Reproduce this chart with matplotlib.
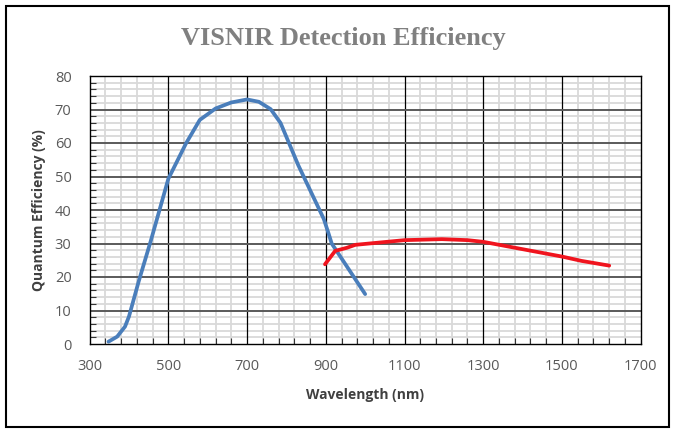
import matplotlib
matplotlib.use("Agg")
import matplotlib.pyplot as plt
from matplotlib.ticker import FixedLocator, MultipleLocator
from matplotlib.patches import Rectangle

# VIS detector (blue)
vis_wl = [348, 370, 390, 400, 425, 455, 480, 500, 545, 580, 620, 660, 700, 730,
          760, 785, 830, 895, 907, 915, 1000]
vis_qe = [0.7, 2.2, 5.2, 8.2, 18.8, 30.6, 41.0, 49.3, 59.9, 66.9, 70.3, 72.1, 73.0, 72.3,
          70.1, 66.0, 53.4, 37.3, 33.0, 30.0, 14.9]

# NIR detector (red)
nir_wl = [898, 924, 953, 975, 1100, 1195, 1260, 1300, 1500, 1550, 1620]
nir_qe = [23.8, 27.8, 28.7, 29.6, 31.0, 31.3, 31.0, 30.5, 26.1, 24.8, 23.4]

x_ticks = [300, 500, 700, 900, 1100, 1300, 1500, 1700]
y_ticks = [0, 10, 20, 30, 40, 50, 60, 70, 80]

title = "VISNIR Detection Efficiency"
xlabel = "Wavelength (nm)"
ylabel = "Quantum Efficiency (%)"

fig = plt.figure(figsize=(6.75, 4.30), dpi=100)
W, H = 675, 430
ax = fig.add_axes([89.6 / W, 1 - 344 / H, (640.7 - 89.6) / W, (344 - 76) / H])

ax.set_xlim(x_ticks[0], x_ticks[-1])
ax.set_ylim(y_ticks[0], y_ticks[-1])
ax.xaxis.set_major_locator(FixedLocator(x_ticks))
ax.xaxis.set_minor_locator(FixedLocator(list(range(x_ticks[0], x_ticks[-1] + 1, 40))))
ax.yaxis.set_major_locator(FixedLocator(y_ticks))
ax.yaxis.set_minor_locator(MultipleLocator(2))

ax.grid(which="minor", axis="both", color="#d9d9d9", linewidth=1.3, zorder=0)
ax.set_axisbelow(True)
ax.vlines(x_ticks[1:-1], y_ticks[0], y_ticks[-1], colors="#000000", linewidth=0.9, zorder=1)
ax.hlines(y_ticks[1:-1], x_ticks[0], x_ticks[-1], colors="#5a5a5a", linewidth=1.4, zorder=1)

ax.plot(vis_wl, vis_qe, color="#4a7ebb", linewidth=2.7, solid_capstyle="round",
        solid_joinstyle="round", zorder=3)
ax.plot(nir_wl, nir_qe, color="#f0141e", linewidth=2.7, solid_capstyle="round",
        solid_joinstyle="round", zorder=3)

for s in ax.spines.values():
    s.set_linestyle((0, (1, 1)))
    s.set_color("black")
    s.set_linewidth(1.0)
    s.set_zorder(4)

ax.tick_params(which="major", length=0, pad=13, labelsize=10.5, labelcolor="#595959")
ax.tick_params(axis="x", which="major", pad=11)
ax.tick_params(which="minor", direction="in", length=4, width=0.8, color="#333333")

for lab in ax.get_xticklabels() + ax.get_yticklabels():
    lab.set_fontfamily("Open Sans")

ax.set_xlabel(xlabel, fontsize=10, fontweight="bold", color="#404040",
              fontfamily="Open Sans", labelpad=10)
ax.set_ylabel(ylabel, fontsize=10, fontweight="bold", color="#404040",
              fontfamily="Open Sans", labelpad=6)

fig.text(343 / W, 1 - 38 / H, title, ha="center", va="center", fontsize=19,
         fontweight="bold", color="#808080", fontfamily="Liberation Serif")

fig.patches.append(Rectangle((6 / W, 1 - 427 / H), (669 - 6) / W, (427 - 6) / H,
                             transform=fig.transFigure, fill=False,
                             edgecolor="black", linewidth=1.5))

fig.savefig("out.png", dpi=100)
